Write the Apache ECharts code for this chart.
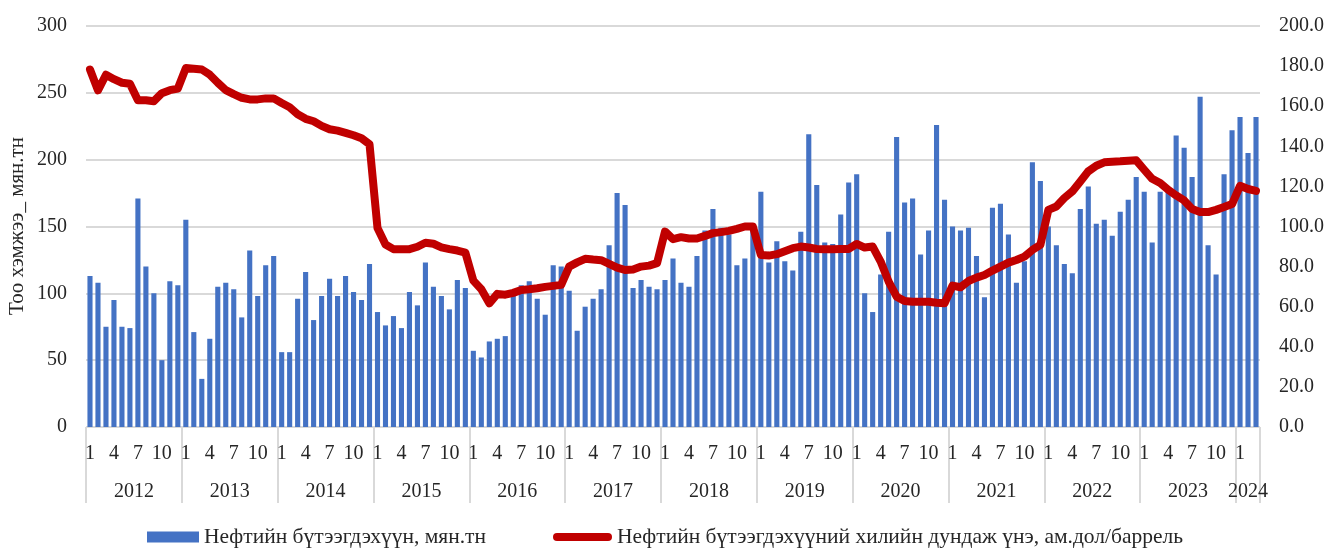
<!DOCTYPE html>
<html>
<head>
<meta charset="utf-8">
<script src="https://cdn.jsdelivr.net/npm/echarts@6/dist/echarts.min.js"></script>
<style>
html,body{margin:0;padding:0;background:#fff;}
#chart{width:1330px;height:549px;}
</style>
</head>
<body>
<div id="chart"></div>
<script>
// Years and number of months shown for each
const years = ['2012','2013','2014','2015','2016','2017','2018','2019','2020','2021','2022','2023','2024'];
const monthsPerYear = [12,12,12,12,12,12,12,12,12,12,12,12,3];
// Month tick labels shown on axis
const monthTickLabels = ['1','4','7','10'];

// Нефтийн бүтээгдэхүүн, мян.тн (monthly)
const production = [
  113,108,75,95,75,74,171,120,100,50,109,106,
  155,71,36,66,105,108,103,82,132,98,121,128,
  56,56,96,116,80,98,111,98,113,101,95,122,
  86,76,83,74,101,91,123,105,98,88,110,104,
  57,52,64,66,68,102,106,109,96,84,121,120,
  102,72,90,96,103,136,175,166,104,110,105,103,
  110,126,108,105,128,147,163,149,144,121,126,148,
  176,123,139,124,117,146,219,181,138,137,159,183,
  189,100,86,114,146,217,168,171,129,147,226,170,
  150,147,149,128,97,164,167,144,108,124,198,184,
  150,136,122,115,163,180,152,155,143,161,170,187,
  176,138,176,176,218,209,187,247,136,114,189,222,
  232,205,232
];

// Нефтийн бүтээгдэхүүний хилийн дундаж үнэ, ам.дол/баррель (monthly)
const price = [
  178.3,167.9,175.7,173.5,171.7,171.2,163.0,163.0,162.5,166.5,168.0,168.8,
  179.0,178.7,178.3,175.7,171.7,168.0,166.0,164.2,163.4,163.4,163.9,163.9,
  161.6,159.5,156.0,153.7,152.5,150.2,148.5,147.8,146.7,145.5,144.0,141.0,
  99.2,91.0,88.7,88.7,88.7,89.9,91.9,91.4,89.6,88.7,88.0,87.0,
  73.0,68.7,61.7,66.4,66.0,66.9,68.3,68.7,69.2,69.9,70.4,70.9,
  80.0,82.1,83.9,83.5,83.2,81.4,79.5,78.3,78.6,80.0,80.5,81.7,
  97.5,93.7,94.7,94.0,94.0,95.3,96.7,97.2,97.8,98.8,100.0,100.0,
  85.8,85.5,86.2,87.7,89.2,90.0,89.5,88.8,88.7,88.7,88.8,88.8,
  91.3,89.5,90.0,82.5,72.5,65.0,62.8,62.5,62.5,62.5,62.0,61.7,
  70.5,69.7,72.8,74.5,75.8,78.0,80.0,82.0,83.3,85.0,88.3,90.8,
  108.3,110.0,114.2,117.5,122.5,127.5,130.3,132.0,132.3,132.5,132.8,133.0,
  128.3,123.8,121.7,118.3,115.5,113.0,108.7,107.2,107.2,108.3,109.7,111.2,
  120.3,118.7,117.8
];

const barName = 'Нефтийн бүтээгдэхүүн, мян.тн';
const lineName = 'Нефтийн бүтээгдэхүүний хилийн дундаж үнэ, ам.дол/баррель';
const yName = 'Тоо хэмжээ_ мян.тн';

// Build category list (year-month) and year boundaries / centers
const categories = [];
const yearBounds = [0];
const yearCenters = [];
let acc = 0;
years.forEach((y, i) => {
  for (let m = 1; m <= monthsPerYear[i]; m++) categories.push(y + '-' + m);
  yearCenters.push(acc + monthsPerYear[i] / 2);
  acc += monthsPerYear[i];
  yearBounds.push(acc);
});

const FONT = "'Liberation Serif', 'Times New Roman', serif";
const TXT = '#262626';
const GRID = '#d9d9d9';
const BLUE = '#4472c4';
const RED = '#c00000';

const chart = echarts.init(document.getElementById('chart'), null, {renderer: 'canvas'});
chart.setOption({
  animation: false,
  textStyle: {fontFamily: FONT, color: TXT},
  grid: {left: 86, right: 70, top: 26, bottom: 122, containLabel: false, outerBoundsMode: 'none'},
  graphic: [
    {
      type: 'text', x: 17, y: 226, rotation: Math.PI / 2, silent: true,
      style: {text: yName, fontFamily: FONT, fontSize: 21, fill: TXT, align: 'center', verticalAlign: 'middle'}
    }
  ],
  legend: [
    {
      left: 142, top: 521, padding: 5,
      itemWidth: 52, itemHeight: 11,
      textStyle: {fontFamily: FONT, fontSize: 21.5, color: TXT},
      data: [{name: barName, icon: 'rect'}]
    },
    {
      left: 548, top: 521, padding: 5,
      itemWidth: 59, itemHeight: 8,
      textStyle: {fontFamily: FONT, fontSize: 21.5, color: TXT},
      itemStyle: {color: RED},
      data: [{name: lineName, icon: 'path://M4,0 L55,0 A4,4 0 0 1 55,8 L4,8 A4,4 0 0 1 4,0 Z'}]
    }
  ],
  xAxis: [
    {
      type: 'category', data: categories,
      axisLine: {show: true, lineStyle: {color: GRID, width: 1}},
      axisTick: {show: false},
      axisLabel: {
        interval: 0, margin: 17,
        fontFamily: FONT, fontSize: 20, color: TXT,
        formatter: function (v) {
          const m = v.split('-')[1];
          return monthTickLabels.indexOf(m) >= 0 ? m : '';
        }
      },
      splitLine: {show: false}
    },
    {
      type: 'value', position: 'bottom', min: 0, max: categories.length,
      axisLine: {show: false},
      splitLine: {show: false},
      axisTick: {show: true, customValues: yearBounds, length: 76, lineStyle: {color: GRID, width: 2}},
      axisLabel: {
        customValues: yearCenters, margin: 55,
        fontFamily: FONT, fontSize: 20, color: TXT,
        formatter: function (v) {
          const idx = yearCenters.findIndex(c => Math.abs(c - v) < 1e-6);
          return idx >= 0 ? years[idx] : '';
        }
      }
    }
  ],
  yAxis: [
    {
      type: 'value', min: 0, max: 300, interval: 50,
      axisLine: {show: false}, axisTick: {show: false},
      axisLabel: {margin: 19, fontFamily: FONT, fontSize: 20, color: TXT},
      splitLine: {show: true, lineStyle: {color: GRID, width: 2}}
    },
    {
      type: 'value', min: 0, max: 200, interval: 20, position: 'right',
      axisLine: {show: false}, axisTick: {show: false},
      axisLabel: {margin: 19, fontFamily: FONT, fontSize: 20, color: TXT,
        formatter: v => v.toFixed(1)},
      splitLine: {show: false}
    }
  ],
  series: [
    {
      name: barName, type: 'bar', data: production,
      xAxisIndex: 0, yAxisIndex: 0,
      barCategoryGap: '36%',
      itemStyle: {color: BLUE}
    },
    {
      name: lineName, type: 'line', data: price,
      xAxisIndex: 0, yAxisIndex: 1,
      symbol: 'none', smooth: false,
      lineStyle: {color: RED, width: 8, join: 'round', cap: 'round'},
      itemStyle: {color: RED}
    }
  ]
});
</script>
</body>
</html>
